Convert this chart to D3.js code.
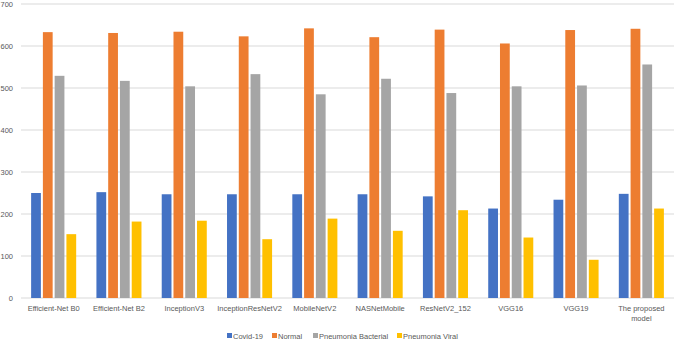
<!DOCTYPE html>
<html>
<head>
<meta charset="utf-8">
<script src="https://cdn.jsdelivr.net/npm/d3@7"></script>
<style>
  body { margin: 0; background: #fff; }
  svg text { font-family: "Liberation Sans", Arial, sans-serif; fill: #595959; }
</style>
</head>
<body>
<div id="chart"></div>
<script>
const models = ["Efficient-Net B0", "Efficient-Net B2", "InceptionV3", "InceptionResNetV2", "MobileNetV2",
  "NASNetMobile", "ResNetV2_152", "VGG16", "VGG19", "The proposed model"];
const seriesNames = ["Covid-19", "Normal", "Pneumonia Bacterial", "Pneumonia Viral"];
const covid = [250, 252, 247, 247, 247, 247, 242, 213, 234, 248];
const normal = [633, 631, 634, 623, 642, 621, 639, 606, 638, 641];
const bacterial = [529, 517, 504, 533, 485, 522, 488, 504, 506, 556];
const viral = [152, 182, 184, 140, 189, 160, 209, 144, 91, 213];
const yTicks = [0, 100, 200, 300, 400, 500, 600, 700];

const colors = ["#4472c4", "#ed7d31", "#a5a5a5", "#ffc000"];
const seriesVals = [covid, normal, bacterial, viral];

const W = 676, H = 342;
const margin = { top: 4, right: 2, bottom: 44, left: 21 };
const width = W - margin.left - margin.right;
const height = H - margin.top - margin.bottom;

const svg = d3.select("#chart").append("svg")
  .attr("width", W).attr("height", H);
const g = svg.append("g")
  .attr("transform", "translate(" + margin.left + "," + margin.top + ")");

const x = d3.scaleBand().domain(models).range([0, width]).paddingInner(0.31).paddingOuter(0.155);
const xs = d3.scaleBand().domain(seriesNames).range([0, x.bandwidth()]).paddingInner(0.17);
const y = d3.scaleLinear().domain([0, 700]).range([height, 0]);

// gridlines
g.selectAll(".grid").data(yTicks).enter().append("line")
  .attr("x1", 0).attr("x2", width)
  .attr("y1", d => y(d)).attr("y2", d => y(d))
  .attr("stroke", "#d9d9d9").attr("stroke-width", 1);

// y axis labels
const yAxis = d3.axisLeft(y).tickValues(yTicks).tickSize(0).tickPadding(8);
const yg = g.append("g").call(yAxis);
yg.select(".domain").remove();
yg.selectAll("text").attr("font-size", 7.5).style("fill", "#595959")
  .style("font-family", "Liberation Sans, Arial, sans-serif");

// bars
const groups = g.selectAll(".grp").data(models).enter().append("g")
  .attr("transform", d => "translate(" + x(d) + ",0)");
groups.selectAll("rect").data((m, i) => seriesVals.map((s, k) => ({ k: k, v: s[i] })))
  .enter().append("rect")
  .attr("x", d => xs(seriesNames[d.k]))
  .attr("width", xs.bandwidth())
  .attr("y", d => y(d.v))
  .attr("height", d => y(0) - y(d.v))
  .attr("fill", d => colors[d.k]);

// x labels
const xg = g.append("g").attr("transform", "translate(0," + height + ")");
models.forEach(m => {
  const cx = x(m) + x.bandwidth() / 2;
  const lines = m === "The proposed model" ? ["The proposed", "model"] : [m];
  lines.forEach((t, i) => {
    xg.append("text").attr("x", cx).attr("y", 13 + i * 10)
      .attr("text-anchor", "middle").attr("font-size", 7.5).text(t);
  });
});

// legend
const legendX = [227, 272, 313, 397];
const leg = svg.append("g");
seriesNames.forEach((s, i) => {
  leg.append("rect").attr("x", legendX[i]).attr("y", 333).attr("width", 5).attr("height", 5)
    .attr("fill", colors[i]);
  leg.append("text").attr("x", legendX[i] + 6).attr("y", 338.5)
    .attr("font-size", 7.5).text(s);
});
</script>
</body>
</html>
